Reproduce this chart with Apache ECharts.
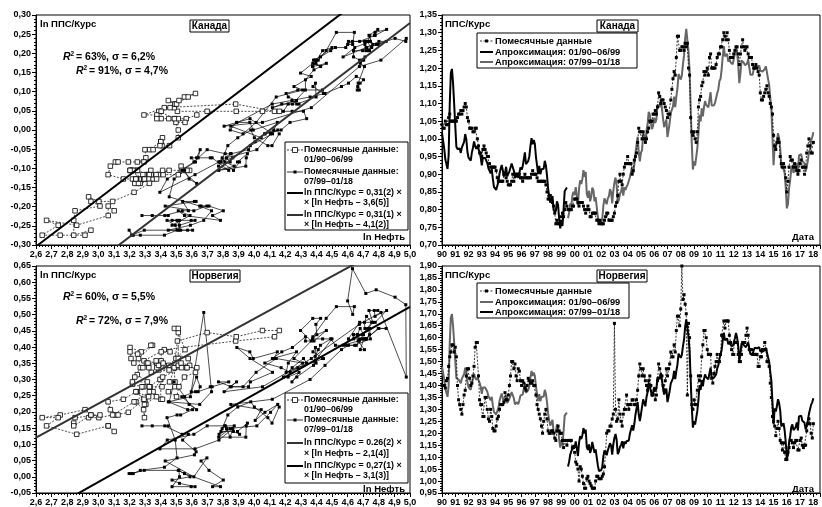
<!DOCTYPE html>
<html><head><meta charset="utf-8">
<script src="https://cdn.jsdelivr.net/npm/echarts/dist/echarts.min.js"></script>
<style>html,body{margin:0;padding:0;background:#fff}#c{width:822px;height:507px}</style>
</head><body><div id="c"></div>
<script>
// ---- DATA ----
// Brent, $/bbl nominal, monthly 01/1990 .. 01/2018
const brent = [
21.2,19.8,18.4,16.6,16.4,15.1,17.2,27.2,34.9,36.0,32.3,27.3,
23.6,19.5,19.1,19.2,19.2,18.4,19.4,19.7,20.4,21.9,20.9,18.6,
18.1,18.1,17.6,19.0,19.9,21.1,20.2,19.7,20.2,20.2,19.1,18.2,
17.3,18.6,18.8,18.6,18.5,17.7,16.8,16.9,16.0,16.7,15.1,13.9,
14.5,13.8,13.6,15.0,16.3,17.1,17.8,16.9,15.9,16.4,17.5,15.9,
16.6,17.2,17.0,18.6,18.4,17.3,16.1,16.2,16.5,16.1,16.9,17.9,
18.0,18.6,19.9,21.3,19.0,18.7,19.6,20.5,22.6,24.3,23.0,23.9,
23.6,20.9,19.2,17.6,19.1,17.6,18.5,18.6,18.6,20.1,19.2,17.4,
15.4,14.1,13.2,13.4,14.2,12.1,12.0,12.0,13.4,12.9,11.0,9.8,
11.1,10.3,12.5,15.3,15.3,15.9,19.0,20.3,22.5,22.0,24.6,25.6,
25.5,27.8,27.5,22.8,27.4,29.8,28.7,30.2,33.1,30.9,32.5,25.8,
25.5,27.5,24.5,25.7,28.4,27.7,24.5,25.7,25.6,20.5,18.9,18.6,
19.4,20.3,23.7,25.7,25.4,24.1,25.7,26.3,28.4,27.5,24.3,28.0,
31.2,32.8,30.4,25.0,25.8,27.6,28.4,29.8,27.1,29.6,28.8,29.8,
31.3,30.9,33.8,33.4,37.6,35.2,38.2,42.7,43.2,49.8,43.1,39.6,
44.5,45.5,53.1,51.9,49.0,54.4,57.6,64.1,62.8,58.4,55.2,56.9,
63.0,60.2,62.1,70.3,70.0,68.9,73.7,73.2,62.5,58.0,58.8,62.0,
54.6,58.0,62.1,67.5,67.5,71.3,77.2,70.8,77.1,82.3,92.4,91.4,
91.9,94.8,103.3,110.4,124.6,133.5,133.9,113.8,99.1,72.8,53.2,41.6,
44.9,43.1,46.8,50.9,57.9,68.6,64.9,72.5,67.7,73.2,77.0,74.7,
76.4,74.3,79.3,84.2,75.6,74.8,75.6,77.1,78.2,83.5,86.1,92.0,
96.5,103.7,114.6,123.3,114.5,113.9,116.5,110.1,112.8,109.6,110.5,107.9,
110.7,119.3,125.5,119.8,110.3,95.2,102.6,113.4,113.0,111.5,109.5,109.2,
112.3,116.1,109.5,103.3,103.3,103.3,107.4,110.3,111.2,109.5,107.9,110.8,
108.1,108.9,107.5,107.8,109.5,111.9,106.8,101.6,97.1,87.4,79.4,62.3,
47.8,58.1,55.9,59.5,64.6,61.7,56.5,46.5,47.6,48.4,44.3,38.0,
30.7,32.2,38.2,41.6,46.7,48.3,44.9,45.8,46.6,49.5,44.8,53.3,
54.6,55.0,51.6,52.3,50.3,46.4,48.5,51.7,56.2,57.5,62.7,64.4,
69.1];
// US CPI, annual average 1990..2018 (deflator for the real oil price)
const cpiUS = [130.7,136.2,140.3,144.5,148.2,152.4,156.9,160.5,163.0,166.6,172.2,177.1,179.9,184.0,188.9,195.3,201.6,207.3,215.3,214.5,218.1,224.9,229.6,233.0,236.7,237.0,240.0,245.1,251.1];
const cpiBase = 233.0;
// PPP / exchange rate, Canada, monthly 01/1990 .. 01/2018
const canada = [
1.04,1.03,1.03,1.05,1.04,1.04,1.06,1.07,1.05,1.05,1.05,1.05,
1.05,1.05,1.06,1.07,1.07,1.08,1.07,1.08,1.09,1.10,1.09,1.06,
1.05,1.03,1.03,1.03,1.02,1.02,1.03,1.03,1.00,0.98,0.96,0.96,
0.95,0.97,0.98,0.97,0.96,0.95,0.95,0.93,0.92,0.92,0.92,0.92,
0.92,0.91,0.89,0.88,0.88,0.88,0.88,0.88,0.90,0.90,0.89,0.88,
0.87,0.87,0.87,0.88,0.90,0.88,0.90,0.90,0.90,0.90,0.90,0.89,
0.89,0.88,0.89,0.90,0.89,0.89,0.89,0.89,0.89,0.90,0.91,0.90,
0.90,0.90,0.89,0.88,0.88,0.88,0.88,0.88,0.88,0.88,0.87,0.85,
0.83,0.83,0.84,0.83,0.82,0.81,0.79,0.76,0.77,0.76,0.76,0.76,
0.78,0.79,0.78,0.80,0.82,0.81,0.80,0.80,0.80,0.80,0.81,0.81,
0.83,0.83,0.83,0.82,0.81,0.82,0.82,0.82,0.81,0.80,0.79,0.80,
0.81,0.80,0.78,0.78,0.79,0.79,0.79,0.79,0.77,0.77,0.76,0.77,
0.76,0.76,0.76,0.77,0.78,0.79,0.79,0.77,0.77,0.77,0.77,0.78,
0.79,0.81,0.82,0.84,0.88,0.90,0.88,0.87,0.90,0.92,0.93,0.93,
0.95,0.93,0.93,0.93,0.90,0.91,0.94,0.95,0.96,0.99,1.03,1.02,
1.02,1.00,1.02,1.00,0.99,1.00,1.02,1.03,1.05,1.05,1.05,1.07,
1.07,1.08,1.07,1.09,1.13,1.12,1.10,1.11,1.11,1.10,1.09,1.08,
1.06,1.07,1.07,1.11,1.14,1.17,1.19,1.18,1.23,1.29,1.29,1.25,
1.25,1.26,1.26,1.25,1.27,1.26,1.27,1.20,1.18,1.06,1.02,1.01,
1.02,1.00,0.99,1.02,1.09,1.11,1.12,1.15,1.16,1.19,1.18,1.19,
1.20,1.18,1.23,1.24,1.20,1.20,1.20,1.20,1.21,1.23,1.24,1.24,
1.26,1.26,1.28,1.30,1.29,1.28,1.30,1.28,1.25,1.23,1.23,1.23,
1.24,1.25,1.26,1.26,1.24,1.21,1.24,1.26,1.28,1.26,1.25,1.26,
1.26,1.24,1.23,1.23,1.23,1.21,1.20,1.20,1.21,1.20,1.19,1.18,
1.13,1.11,1.11,1.12,1.13,1.14,1.15,1.13,1.12,1.10,1.09,1.07,
1.01,0.98,0.97,0.99,1.00,0.99,0.95,0.93,0.92,0.93,0.92,0.89,
0.85,0.88,0.92,0.95,0.94,0.94,0.92,0.93,0.92,0.91,0.90,0.91,
0.93,0.94,0.92,0.92,0.90,0.92,0.96,0.98,1.00,0.98,0.96,0.96,
0.99];
// PPP / exchange rate, Norway, monthly 01/1990 .. 01/2018
const norway = [
1.40,1.40,1.40,1.39,1.42,1.43,1.48,1.52,1.54,1.57,1.57,1.54,
1.56,1.52,1.40,1.34,1.32,1.30,1.28,1.32,1.36,1.38,1.44,1.47,
1.47,1.43,1.40,1.41,1.44,1.48,1.56,1.58,1.58,1.44,1.34,1.32,
1.32,1.27,1.27,1.35,1.35,1.30,1.26,1.25,1.30,1.27,1.22,1.21,
1.21,1.23,1.26,1.27,1.30,1.32,1.32,1.32,1.33,1.37,1.34,1.34,
1.36,1.40,1.44,1.50,1.50,1.47,1.49,1.44,1.42,1.47,1.46,1.42,
1.40,1.42,1.41,1.39,1.38,1.40,1.43,1.42,1.41,1.41,1.42,1.40,
1.40,1.36,1.32,1.30,1.28,1.26,1.23,1.20,1.25,1.28,1.30,1.26,
1.21,1.20,1.20,1.21,1.21,1.20,1.18,1.17,1.21,1.23,1.21,1.20,
1.20,1.17,1.14,1.17,1.17,1.15,1.17,1.17,1.17,1.17,1.14,1.14,
1.12,1.08,1.07,1.05,1.00,1.06,1.05,1.02,0.99,0.97,0.97,1.01,
1.02,1.00,0.99,0.98,0.97,0.97,0.97,1.00,1.02,1.02,1.01,1.01,
1.01,1.02,1.03,1.06,1.12,1.20,1.21,1.21,1.23,1.23,1.26,1.28,
1.66,1.30,1.25,1.26,1.34,1.28,1.25,1.23,1.28,1.30,1.30,1.36,
1.32,1.30,1.32,1.32,1.34,1.34,1.32,1.32,1.34,1.38,1.44,1.49,
1.47,1.44,1.47,1.44,1.42,1.40,1.38,1.42,1.44,1.40,1.36,1.36,
1.38,1.34,1.36,1.42,1.49,1.47,1.44,1.44,1.40,1.38,1.42,1.47,
1.44,1.47,1.49,1.54,1.52,1.52,1.57,1.54,1.63,1.69,1.69,1.65,
1.72,1.90,1.76,1.78,1.74,1.70,1.36,1.66,1.60,1.44,1.32,1.30,
1.34,1.32,1.32,1.38,1.44,1.42,1.44,1.52,1.57,1.63,1.63,1.60,
1.55,1.53,1.53,1.53,1.43,1.41,1.45,1.48,1.50,1.53,1.50,1.50,
1.53,1.61,1.61,1.67,1.64,1.67,1.67,1.67,1.61,1.58,1.55,1.53,
1.53,1.58,1.58,1.58,1.53,1.50,1.50,1.53,1.58,1.58,1.58,1.61,
1.64,1.61,1.55,1.55,1.55,1.53,1.53,1.53,1.53,1.53,1.48,1.48,
1.52,1.52,1.55,1.55,1.58,1.55,1.50,1.50,1.48,1.41,1.35,1.27,
1.25,1.23,1.19,1.22,1.25,1.22,1.17,1.16,1.13,1.16,1.12,1.09,
1.09,1.12,1.14,1.17,1.17,1.16,1.14,1.16,1.17,1.17,1.13,1.13,
1.17,1.18,1.15,1.14,1.15,1.15,1.21,1.24,1.26,1.24,1.20,1.18,
1.24];
const splitIdx = 114;              // first month of 07/99
const fitCanada = [[0.31, 3.58], [0.31, 4.10]];   // slope, ln-oil intercept
const fitNorway = [[0.262, 2.14], [0.27, 3.06]];
const leftXTicks = {min: 2.6, max: 5.0, step: 0.1};
const yearStart = 1990, yearEnd = 2018.5;

// ---- BUILD ----
const FONT = '"Liberation Sans", Arial, sans-serif';
function lnOil(i){ return Math.log(brent[i] * cpiBase / cpiUS[Math.floor(i/12)]); }
function build(ratio, fit){
  const old=[], nw=[], time=[], ap1=[], ap2=[];
  for (let i=0;i<ratio.length;i++){
    const x = lnOil(i), t = yearStart + i/12;
    (i<splitIdx?old:nw).push([x, Math.log(ratio[i])]);
    time.push([t, ratio[i]]);
    if (i<splitIdx) ap1.push([t, Math.exp(fit[0][0]*(x-fit[0][1]))]);
    else ap2.push([t, Math.exp(fit[1][0]*(x-fit[1][1]))]);
  }
  const line = f => [[leftXTicks.min, f[0]*(leftXTicks.min-f[1])],[leftXTicks.max, f[0]*(leftXTicks.max-f[1])]];
  return {old, nw, time, ap1, ap2, l1: line(fit[0]), l2: line(fit[1])};
}
const CA = build(canada, fitCanada), NO = build(norway, fitNorway);

const lab = {fontFamily: FONT, fontWeight: 'bold', fontSize: 9, color: '#000'};
function yAx(idx, min, max){
  return {type:'value', gridIndex: idx, min, max, interval: 0.05,
    axisLine:{show:true, lineStyle:{color:'#000', width:1}},
    axisTick:{show:true, length:4, lineStyle:{color:'#000'}},
    minorTick:{show:true, splitNumber:5, length:2, lineStyle:{color:'#000'}},
    splitLine:{show:false},
    axisLabel:Object.assign({margin:5, formatter: v => v.toFixed(2).replace('.', ',').replace('-0,00','0,00')}, lab)};
}
function xLeft(idx){
  return {type:'value', gridIndex: idx, min: leftXTicks.min, max: leftXTicks.max, interval: leftXTicks.step,
    axisLine:{show:true, onZero:false, lineStyle:{color:'#000'}},
    axisTick:{show:true, length:4, lineStyle:{color:'#000'}},
    minorTick:{show:true, splitNumber:5, length:2, lineStyle:{color:'#000'}},
    splitLine:{show:false},
    axisLabel:Object.assign({margin:5, formatter: v => v.toFixed(1).replace('.', ',')}, lab)};
}
function xRight(idx){
  return {type:'value', gridIndex: idx, min: yearStart, max: yearEnd, interval: 1,
    axisLine:{show:true, onZero:false, lineStyle:{color:'#000'}},
    axisTick:{show:true, length:4, lineStyle:{color:'#000'}},
    minorTick:{show:true, splitNumber:4, length:2, lineStyle:{color:'#000'}},
    splitLine:{show:false},
    axisLabel:Object.assign({margin:5, showMaxLabel:false, formatter: v => Number.isInteger(v) ? String(v%100).padStart(2,'0') : ''}, lab)};
}
const grids = [
  {left:36, top:15, width:374, height:230},
  {left:442, top:15, width:378, height:230},
  {left:36, top:266, width:374, height:228},
  {left:442, top:266, width:378, height:228}
].map(g => Object.assign({show:true, borderColor:'#000', borderWidth:1, backgroundColor:'#fff'}, g));

function scatterSeries(gi, d, c1, c2){
  return [
    {type:'line', xAxisIndex:gi, yAxisIndex:gi, data:d.old, symbol:'rect', symbolSize:4.5,
     lineStyle:{color:'#000', width:0.7, type:[2,1.5]}, itemStyle:{color:'#fff', borderColor:'#000', borderWidth:0.8}, z:3},
    {type:'line', xAxisIndex:gi, yAxisIndex:gi, data:d.nw, symbol:'rect', symbolSize:3,
     lineStyle:{color:'#000', width:0.7}, itemStyle:{color:'#000'}, z:3},
    {type:'line', xAxisIndex:gi, yAxisIndex:gi, data:d.l1, symbol:'none', lineStyle:{color:c1, width:2}, z:4},
    {type:'line', xAxisIndex:gi, yAxisIndex:gi, data:d.l2, symbol:'none', lineStyle:{color:c2, width:2}, z:4}
  ];
}
function timeSeries(gi, d, c1, c2){
  return [
    {type:'line', xAxisIndex:gi, yAxisIndex:gi, data:d.ap1, symbol:'none', lineStyle:{color:c1, width:2}, z:3},
    {type:'line', xAxisIndex:gi, yAxisIndex:gi, data:d.ap2, symbol:'none', lineStyle:{color:c2, width:2}, z:3},
    {type:'line', xAxisIndex:gi, yAxisIndex:gi, data:d.time, symbol:'rect', symbolSize:3,
     lineStyle:{color:'#000', width:0.8, type:[2,1.5]}, itemStyle:{color:'#000'}, z:4}
  ];
}

// ---- TEXT / LEGENDS (graphics) ----
const G = [];
const LF = 8.8;
function txt(x, y, s, size, opts){
  G.push(Object.assign({type:'text', x, y, z:100, style:Object.assign({text:s, font:'bold '+(size||LF)+'px '+FONT, fill:'#000', textVerticalAlign:'middle'}, opts||{})}));
}
function box(x, y, w, h){
  G.push({type:'rect', z:99, shape:{x, y, width:w, height:h}, style:{fill:'#fff', stroke:'#000', lineWidth:1}});
}
function titleBox(x, y, w, s){ box(x, y, w, 12); txt(x + w/2, y + 6.5, s, 10, {textAlign:'center'}); }
function r2(x, y, s){
  txt(x, y, 'R', 10.5, {font:'italic bold 10.5px '+FONT});
  txt(x+7.5, y-3, '2', 6.5);
  txt(x+13, y, s, 10.5);
}
function icon(x, y, kind){
  if (kind==='open'){
    G.push({type:'line', z:100, shape:{x1:x, y1:y, x2:x+16, y2:y}, style:{stroke:'#000', lineWidth:0.8, lineDash:[2,1.5]}});
    G.push({type:'rect', z:101, shape:{x:x+5.5, y:y-2.5, width:5, height:5}, style:{fill:'#fff', stroke:'#000', lineWidth:0.8}});
  } else if (kind==='filled'){
    G.push({type:'line', z:100, shape:{x1:x, y1:y, x2:x+16, y2:y}, style:{stroke:'#000', lineWidth:0.8}});
    G.push({type:'rect', z:101, shape:{x:x+6.5, y:y-1.5, width:3, height:3}, style:{fill:'#000'}});
  } else if (kind==='dotted'){
    G.push({type:'line', z:100, shape:{x1:x, y1:y, x2:x+13, y2:y}, style:{stroke:'#000', lineWidth:0.8, lineDash:[2,1.5]}});
    G.push({type:'rect', z:101, shape:{x:x+5, y:y-1.5, width:3, height:3}, style:{fill:'#000'}});
  } else {
    G.push({type:'line', z:100, shape:{x1:x, y1:y, x2:x+(kind.w||16), y2:y}, style:{stroke:kind.c, lineWidth:2}});
  }
}
// top-left
txt(40, 24, 'ln ППС/Курс', 9.5);
titleBox(190, 20, 39, 'Канада');
r2(63, 57, '= 63%, σ = 6,2%');
r2(76, 71, '= 91%, σ = 4,7%');
txt(405, 237, 'ln Нефть', 9.5, {textAlign:'right'});
box(285, 142, 123, 88);
icon(287, 150, 'open');   txt(304, 150, 'Помесячные данные:'); txt(304, 160, '01/90–06/99');
icon(287, 172, 'filled'); txt(304, 172, 'Помесячные данные:'); txt(304, 182, '07/99–01/18');
icon(287, 193, {c:'#000'}); txt(304, 193, 'ln ППС/Курс = 0,31(2) ×'); txt(304, 203, '× [ln Нефть – 3,6(5)]');
icon(287, 215, {c:'#333'}); txt(304, 215, 'ln ППС/Курс = 0,31(1) ×'); txt(304, 225, '× [ln Нефть – 4,1(2)]');
// top-right
txt(445, 24, 'ППС/Курс', 9.5);
titleBox(597, 20, 41, 'Канада');
txt(814, 237, 'Дата', 9.5, {textAlign:'right'});
box(477, 33, 160, 35);
icon(480, 41, 'dotted'); txt(495, 41, 'Помесячные данные', 9.3);
icon(480, 52, {c:'#000', w:13}); txt(495, 52, 'Апроксимация: 01/90–06/99', 9.3);
icon(480, 62, {c:'#666', w:13}); txt(495, 62, 'Апроксимация: 07/99–01/18', 9.3);
// bottom-left
txt(40, 275, 'ln ППС/Курс', 9.5);
titleBox(190, 270, 50, 'Норвегия');
r2(63, 297, '= 60%, σ = 5,5%');
r2(76, 321, '= 72%, σ = 7,9%');
txt(405, 489, 'ln Нефть', 9.5, {textAlign:'right'});
box(285, 393, 123, 90);
icon(287, 400, 'open');   txt(304, 400, 'Помесячные данные:'); txt(304, 410, '01/90–06/99');
icon(287, 420, 'filled'); txt(304, 420, 'Помесячные данные:'); txt(304, 430, '07/99–01/18');
icon(287, 443, {c:'#333'}); txt(304, 443, 'ln ППС/Курс = 0.26(2) ×'); txt(304, 454, '× [ln Нефть – 2,1(4)]');
icon(287, 466, {c:'#000'}); txt(304, 466, 'ln ППС/Курс = 0,27(1) ×'); txt(304, 476, '× [ln Нефть – 3,1(3)]');
// bottom-right
txt(445, 275, 'ППС/Курс', 9.5);
titleBox(597, 270, 50, 'Норвегия');
txt(814, 489, 'Дата', 9.5, {textAlign:'right'});
box(477, 283, 152, 35);
icon(480, 291, 'dotted'); txt(495, 291, 'Помесячные данные', 9.3);
icon(480, 302, {c:'#666', w:13}); txt(495, 302, 'Апроксимация: 01/90–06/99', 9.3);
icon(480, 312, {c:'#000', w:13}); txt(495, 312, 'Апроксимация: 07/99–01/18', 9.3);

const chart = echarts.init(document.getElementById('c'), null, {renderer:'canvas'});
chart.setOption({
  animation:false, backgroundColor:'#fff',
  grid: grids,
  xAxis:[xLeft(0), xRight(1), xLeft(2), xRight(3)],
  yAxis:[yAx(0,-0.30,0.30), yAx(1,0.70,1.35), yAx(2,-0.05,0.65), yAx(3,0.95,1.90)],
  series:[].concat(scatterSeries(0, CA, '#000', '#333'), timeSeries(1, CA, '#000', '#666'),
                   scatterSeries(2, NO, '#333', '#000'), timeSeries(3, NO, '#666', '#000')),
  graphic: G
});
</script></body></html>
